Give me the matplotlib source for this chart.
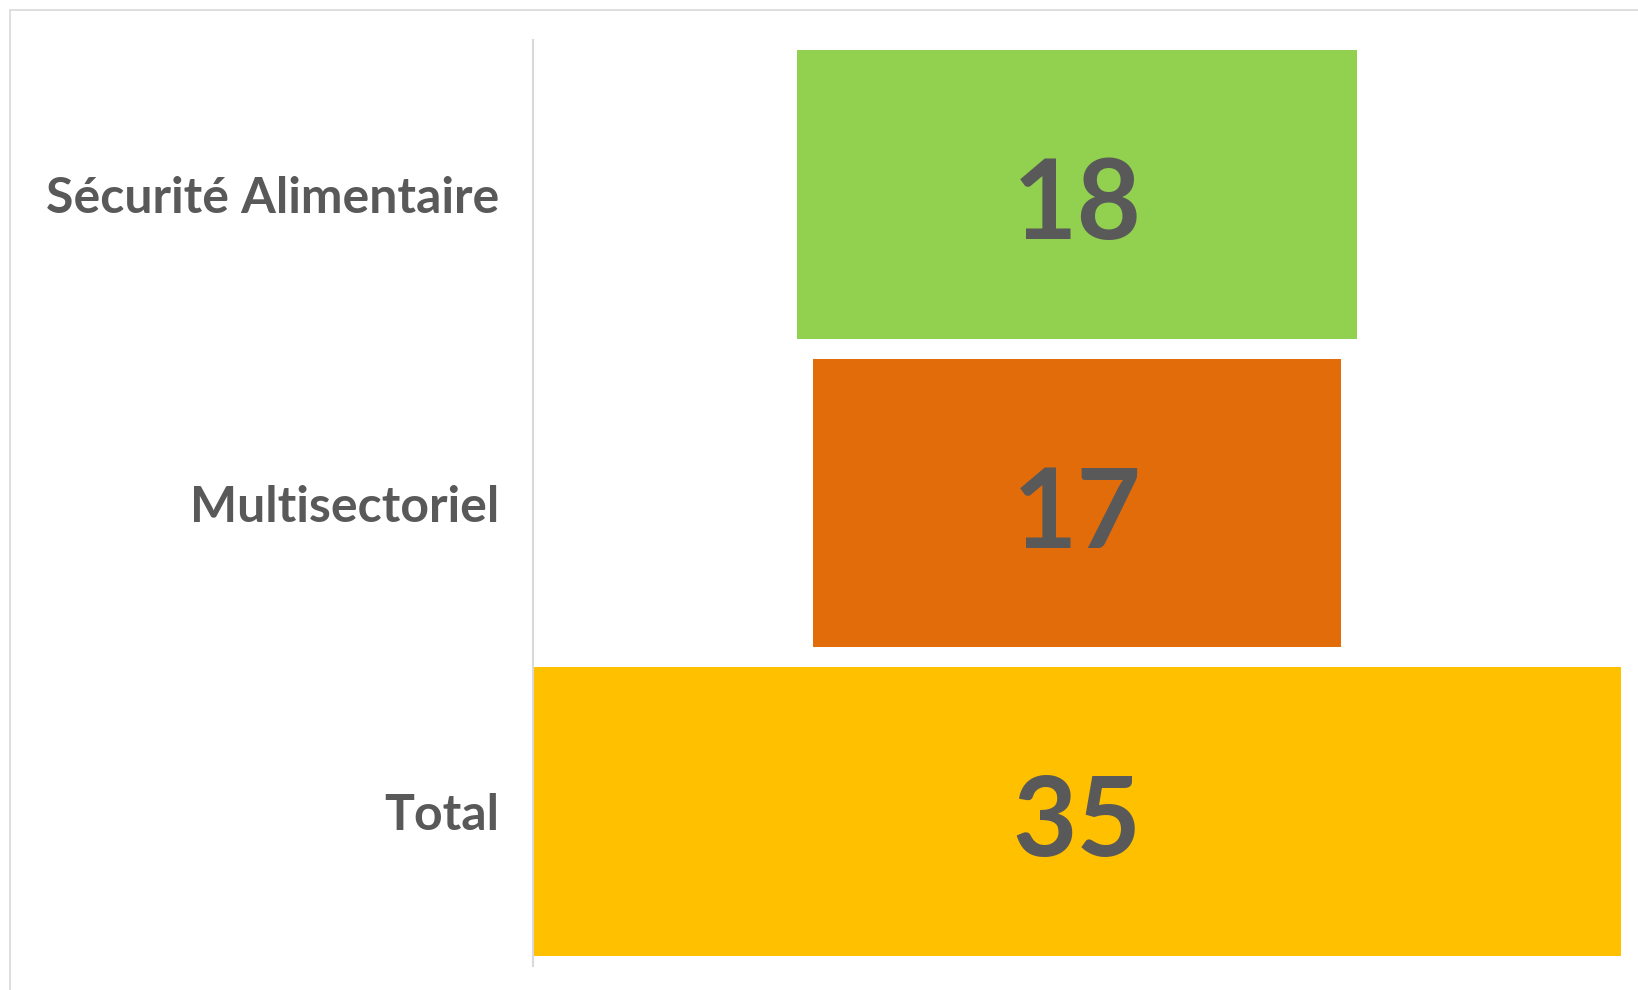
import numpy as np
import matplotlib.pyplot as plt
from matplotlib.patches import Rectangle

# funnel data (top to bottom)
categories = ["Sécurité Alimentaire", "Multisectoriel", "Total"]
values = [18, 17, 35]
colors = ["#92D050", "#E36C0A", "#FFC000"]

plt.rcParams['font.family'] = ['Lato', 'DejaVu Sans']
txt_col = "#595959"

fig = plt.figure(figsize=(16.38, 9.9), dpi=100)
# light frame round the chart
fig.patches.append(Rectangle((10 / 1638, -0.1), 1.2, 1.1 - 10 / 990, transform=fig.transFigure,
                             fill=False, edgecolor="#d9d9d9", linewidth=1.2))

ax = fig.add_axes([533 / 1638, 24 / 990, (1621 - 533) / 1638, (950 - 24) / 990])

vmax = max(values)
y = np.arange(len(categories))
lefts = [(vmax - v) / 2 for v in values]
ax.barh(y, values, left=lefts, height=0.935, color=colors)

# value labels, baseline a bit under the bar centre
for yi, v in zip(y, values):
    ax.text(vmax / 2, yi + 0.145, str(v), ha="center", va="baseline", fontsize=80,
            fontweight="bold", color=txt_col)

ax.set_xlim(0, vmax)
ax.set_ylim(len(categories) - 0.5, -0.5)
ax.set_yticks(y)
ax.set_yticklabels(categories, fontsize=36, fontweight="bold", color=txt_col)
ax.tick_params(axis="y", length=0, pad=24)
ax.set_xticks([])
for s in ["top", "right", "bottom"]:
    ax.spines[s].set_visible(False)
ax.spines["left"].set_color("#d9d9d9")
ax.spines["left"].set_linewidth(1.5)

fig.savefig("out.png", dpi=100)
